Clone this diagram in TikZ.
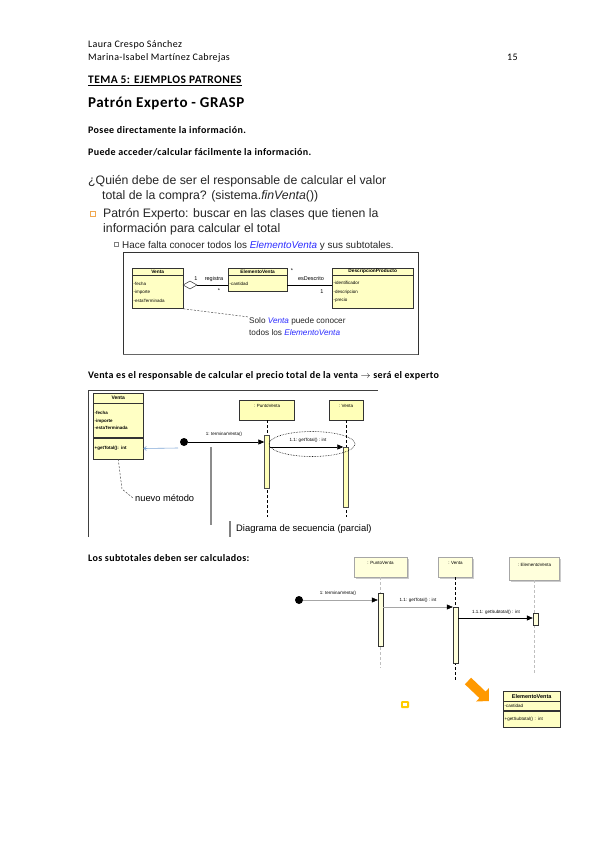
\documentclass[tikz,border=0pt]{standalone}
\usepackage{fontspec}
\setmainfont{Carlito}[LetterSpace=3.5, Ligatures={NoCommon}]
\newfontfamily\arialfont{Liberation Sans}
\usetikzlibrary{positioning,arrows.meta,shapes.geometric,shadows}
\definecolor{umlyellow}{HTML}{FFFFC4}
\definecolor{seqyellow}{HTML}{FFFFB8}
\definecolor{paleyellow}{HTML}{FFFFDC}
\definecolor{slidegray}{HTML}{262626}
\definecolor{noteblue}{HTML}{2B2BFF}
\definecolor{boxorange}{HTML}{F0A850}
\definecolor{flagorange}{HTML}{FF9900}
\definecolor{icongold}{HTML}{FFCC00}
\definecolor{linkblue}{HTML}{7FA6D6}
\tikzset{
  doc/.style={anchor=base west, inner sep=0pt, font=\fontsize{10}{12}\selectfont},
  docb/.style={anchor=base west, inner sep=0pt, font=\bfseries\fontsize{10}{12}\selectfont},
  slide/.style={anchor=base west, inner sep=0pt, text=slidegray, font=\arialfont\fontsize{12.3}{14}\selectfont},
  umltxt/.style={font=\arialfont\fontsize{4.5}{8.3}\selectfont},
  clshead/.style={draw=black!80, fill=umlyellow, anchor=north west, inner sep=0pt, font=\arialfont\bfseries\fontsize{4.8}{6}\selectfont},
  clsbody/.style={draw=black!80, fill=umlyellow, anchor=north west, inner sep=1.5pt, align=left, umltxt},
  aggr/.style={diamond, draw=black, fill=white, minimum width=14pt, minimum height=8pt, inner sep=0pt},
  multlbl/.style={inner sep=0pt, font=\arialfont\fontsize{5.5}{6}\selectfont},
  note/.style={anchor=north west, align=left, inner sep=0pt, text=slidegray, font=\arialfont\fontsize{8.2}{12}\selectfont},
  notelink/.style={draw=black!70, dash pattern=on 2pt off 1.5pt, line width=0.5pt},
  newlink/.style={draw=linkblue, line width=0.6pt, {Straight Barb[length=2.5pt,width=4pt]}-},
  lifebox/.style={draw=black!80, fill=seqyellow, inner sep=0pt, text height=3pt, text depth=8pt, font=\arialfont\fontsize{4.5}{6}\selectfont},
  lifebox3/.style={draw=black!35, fill=paleyellow, inner sep=0pt, text height=3pt, text depth=8pt, font=\arialfont\fontsize{4.5}{6}\selectfont, drop shadow={shadow xshift=1.5pt, shadow yshift=-1.5pt, fill=black!20, opacity=1}},
  actbar/.style={draw=black!70, fill=seqyellow, minimum width=5pt, inner sep=0pt, anchor=north},
  actbar3/.style={draw=black!80, fill=paleyellow, minimum width=5pt, inner sep=0pt, anchor=north},
  lifeline/.style={draw=black, dash pattern=on 3pt off 2pt, line width=0.6pt},
  lifeline3/.style={draw=black!25, dash pattern=on 3pt off 2pt, line width=0.8pt},
  msg/.style={draw=black, line width=0.7pt, -{Triangle[length=6pt,width=5pt]}},
  msg3/.style={draw=black!35, line width=0.5pt, -{Triangle[length=6pt,width=5pt,color=black]}},
  startdot/.style={circle, fill=black, minimum size=8pt, inner sep=0pt},
  msglbl/.style={anchor=south, inner sep=0.5pt, font=\arialfont\fontsize{4.5}{6}\selectfont}
}
\begin{document}
\begin{tikzpicture}[x=1pt, y=-1pt]
  \useasboundingbox (0,0) rectangle (599,848);
  \fill[white] (0,0) rectangle (599,848);

  % Cabecera
  \node[doc] (auth1) at (88,48) {Laura Crespo Sánchez};
  \node[doc] (auth2) at (88,61) {Marina-Isabel Martínez Cabrejas};
  \node[doc] (pag) at (507,61) {15};
  \node[docb, font=\bfseries\fontsize{11.5}{13}\selectfont] (tema) at (88,84) {\underline{TEMA 5: EJEMPLOS PATRONES}};
  \node[anchor=base west, inner sep=0pt, font=\bfseries\fontsize{15}{17}\selectfont] (titulo) at (88,108) {Patrón Experto - GRASP};
  \node[docb] (posee) at (88,134) {Posee directamente la información.};
  \node[docb] (acceso) at (88,155) {Puede acceder/calcular fácilmente la información.};

  % Texto de la diapositiva
  \node[slide] (q1) at (88,184) {¿Quién debe de ser el responsable de calcular el valor};
  \node[slide] (q2) at (102,199) {total de la compra? (sistema.\textit{finVenta}())};
  \node[draw=boxorange, fill=white, minimum size=5pt, inner sep=0pt] (bul1) at (92.5,213.5) {};
  \node[slide] (p1) at (103,217) {Patrón Experto: buscar en las clases que tienen la};
  \node[slide] (p2) at (103,232) {información para calcular el total};
  \node[draw=black!50, fill=white, minimum size=4pt, inner sep=0pt] (bul2) at (116.5,244.5) {};
  \node[slide, font=\arialfont\fontsize{9.9}{11}\selectfont] (h1) at (122,248) {Hace falta conocer todos los \textcolor{noteblue}{\itshape ElementoVenta} y sus subtotales.};

  % Marco del diagrama de clases
  \node[draw=black!80, minimum width=295pt, minimum height=102pt, anchor=north west, inner sep=0pt] (frameA) at (123,252) {};
  \draw[black!60, line width=1.5pt] (frameA.south west) -- (frameA.south east);

  % Clases
  \node[clshead, minimum width=51pt, minimum height=7pt] (vtaH) at (132,268) {Venta};
  \node[clsbody, text width=48pt, minimum height=33pt] (vtaB) at (vtaH.south west) {-fecha\\-importe\\-estaTerminada};
  \node[clshead, minimum width=59pt, minimum height=7pt] (elvH) at (228,268) {ElementoVenta};
  \node[clsbody, text width=56pt, minimum height=16pt] (elvB) at (elvH.south west) {-cantidad};
  \node[clshead, minimum width=81pt, minimum height=7pt] (dscH) at (332,268) {DescripcionProducto};
  \node[clsbody, text width=78pt, minimum height=33pt] (dscB) at (dscH.south west) {-identificador\\-descripcion\\-precio};

  % Asociaciones
  \node[aggr] (agg) at (190,285) {};
  \draw[line width=0.7pt] (agg.east) -- (agg.east -| elvB.west);
  \draw[line width=0.7pt] (elvB.east |- agg.east) -- (dscB.west |- agg.east);
  \node[multlbl] (mul1) at (196,279) {1};
  \node[multlbl] (regLbl) at (214,279) {registra};
  \node[multlbl] (mul2) at (219,291) {*};
  \node[multlbl] (mul3) at (292,271) {*};
  \node[multlbl] (descLbl) at (311,279) {esDescrito};
  \node[multlbl] (mul4) at (322,292) {1};

  % Nota
  \node[note] (noteTxt) at (249,317) {Solo \textcolor{noteblue}{\itshape Venta} puede conocer\\todos los \textcolor{noteblue}{\itshape ElementoVenta}};
  \draw[notelink] (vtaB.south east) -- (noteTxt.north west);

  % Texto intermedio
  \node[docb] (experto) at (88,378) {Venta es el responsable de calcular el precio total de la venta $\rightarrow$ será el experto};

  % Diagrama de secuencia parcial
  \coordinate (fr2a) at (88,537);
  \coordinate (fr2b) at (88,390);
  \coordinate (fr2c) at (378,390);
  \draw[black!75, line width=0.8pt] (fr2a) -- (fr2b) -- (fr2c);

  \node[clshead, minimum width=50pt, minimum height=10pt, font=\arialfont\bfseries\fontsize{5}{6}\selectfont] (vt2H) at (93,393) {Venta};
  \node[clsbody, text width=47pt, minimum height=34pt, font=\arialfont\bfseries\fontsize{4.5}{7.5}\selectfont] (vt2A) at (vt2H.south west) {-fecha\\-importe\\-estaTerminada};
  \node[clsbody, text width=47pt, minimum height=21pt, font=\arialfont\bfseries\fontsize{4.5}{7.5}\selectfont] (vt2O) at (vt2A.south west) {+getTotal(): int};
  \coordinate (blueTail) at (178,448);
  \draw[newlink] (vt2O.east) -- (blueTail);

  \node[anchor=west, inner sep=2pt, font=\arialfont\fontsize{9.3}{10}\selectfont] (nuevo) at (133,498) {nuevo método};
  \coordinate (nvBend) at (122,489);
  \draw[notelink] (vt2O.south) -- (nvBend) -- (nuevo.west);

  \node[lifebox, minimum width=55pt, minimum height=20pt] (pv2) at (267,410) {: PuntoVenta};
  \node[lifebox, minimum width=34pt, minimum height=20pt] (vt2L) at (346,410) {: Venta};
  \coordinate (pv2End) at (267,517);
  \coordinate (vt2End) at (346,517);
  \draw[lifeline] (pv2.south) -- (pv2End);
  \draw[lifeline] (vt2L.south) -- (vt2End);
  \node[actbar, minimum height=53pt] (pv2Act) at (267,435) {};
  \node[actbar, minimum height=60pt] (vt2Act) at (346,447) {};

  \node[startdot] (dot2) at (184,442) {};
  \draw[msg] (dot2) -- (dot2 -| pv2Act.west);
  \node[msglbl] (lbl21) at (224,437) {1: terminarVenta()};
  \draw[msg] (pv2Act.east |- vt2Act.north) -- (vt2Act.north west);
  \node[ellipse, draw=black, densely dotted, line width=0.6pt, minimum width=86pt, minimum height=25pt] (focus) at (312,444) {};
  \node[msglbl] (lbl22) at (308,443) {1.1: getTotal() : int};

  \coordinate (sepTop) at (211,447);
  \coordinate (sepBot) at (211,525);
  \draw[black!45, line width=1.3pt] (sepTop) -- (sepBot);

  \node[anchor=west, inner xsep=0pt, inner ysep=3pt, font=\arialfont\fontsize{9.4}{10}\selectfont] (diagLbl) at (236,529) {Diagrama de secuencia (parcial)};
  \draw[black!50, line width=1.2pt] ([xshift=-6pt]diagLbl.north west) -- ([xshift=-6pt]diagLbl.south west);

  % Texto de subtotales
  \node[docb] (subt) at (88,561) {Los subtotales deben ser calculados:};

  % Diagrama de secuencia completo
  \node[lifebox3, minimum width=53pt, minimum height=20pt] (pv3) at (380.5,567) {: PuntoVenta};
  \node[lifebox3, minimum width=34pt, minimum height=20pt] (vt3) at (455.5,567) {: Venta};
  \node[lifebox3, minimum width=50pt, minimum height=23pt] (ev3) at (534.5,568.5) {: ElementoVenta};
  \coordinate (pv3End) at (380.5,668);
  \coordinate (vt3End) at (455.5,680);
  \coordinate (ev3End) at (534.5,675);
  \draw[lifeline3] (pv3.south) -- (pv3End);
  \draw[lifeline] (vt3.south) -- (vt3End);
  \draw[lifeline3] (ev3.south) -- (ev3End);
  \node[actbar3, minimum height=53pt] (pv3Act) at (380.5,593) {};
  \node[actbar3, minimum height=56pt] (vt3Act) at (455.5,607) {};
  \node[actbar3, minimum height=12pt] (ev3Act) at (535.5,613) {};

  \node[startdot] (dot3) at (299,600) {};
  \draw[msg3] (dot3) -- (dot3 -| pv3Act.west);
  \node[msglbl] (lbl31) at (338,596) {1: terminarVenta()};
  \draw[msg3] (pv3Act.east |- vt3Act.north) -- (vt3Act.north west);
  \node[msglbl] (lbl32) at (418,603) {1.1: getTotal() : int};
  \coordinate (m33) at (0,618);
  \draw[msg] (vt3Act.east |- m33) -- (ev3Act.west |- m33);
  \node[msglbl] (lbl33) at (496,615) {1.1.1: getSubtotal() : int};

  % Icono, flecha y clase ElementoVenta
  \node[fill=icongold, rounded corners=1pt, minimum width=8pt, minimum height=7pt, inner sep=0pt] (icon) at (405,704.5) {};
  \node[fill=white, minimum width=4pt, minimum height=2.5pt, inner sep=0pt] (iconIn) at (icon) {};
  \coordinate (flagTail) at (468,681);
  \coordinate (flagTip) at (489,701);
  \draw[flagorange, line width=9pt, -{Triangle[length=9pt,width=18pt]}] (flagTail) -- (flagTip);

  \node[clshead, minimum width=57pt, minimum height=10pt, font=\arialfont\bfseries\fontsize{5.5}{6}\selectfont] (ev4H) at (503,691) {ElementoVenta};
  \node[clsbody, text width=54pt, minimum height=9pt] (ev4A) at (ev4H.south west) {-cantidad};
  \node[clsbody, text width=54pt, minimum height=16pt] (ev4O) at (ev4A.south west) {+getSubtotal() : int};
\end{tikzpicture}
\end{document}
